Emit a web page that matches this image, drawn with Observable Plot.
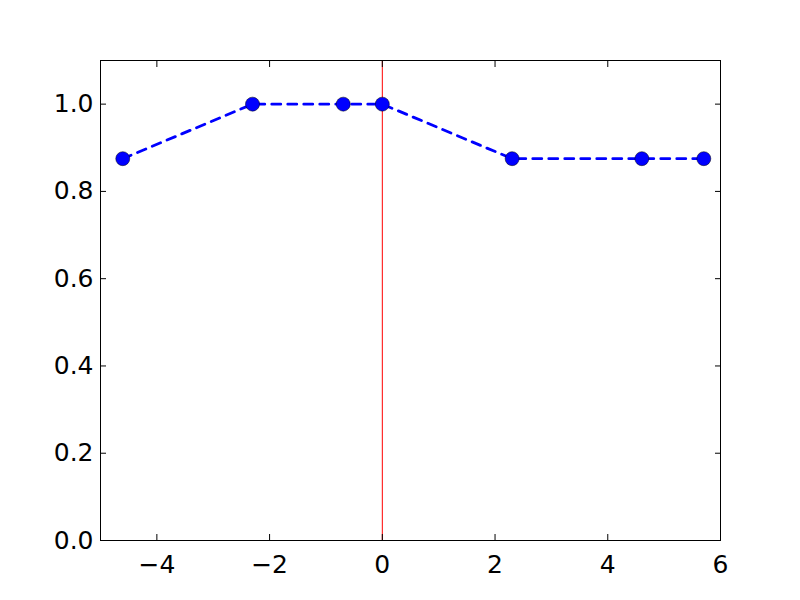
<!DOCTYPE html>
<html>
<head>
<meta charset="utf-8">
<script src="https://cdn.jsdelivr.net/npm/d3@7"></script>
<script src="https://cdn.jsdelivr.net/npm/@observablehq/plot@0.6"></script>
<style>
  html, body { margin: 0; padding: 0; background: #fff; }
  svg { display: block; }
</style>
</head>
<body>
<div id="chart"></div>
<script>
const xs = [-4.605, -2.303, -0.693, 0, 2.303, 4.605, 5.704];
const ys = [0.875, 1.0, 1.0, 1.0, 0.875, 0.875, 0.875];
const xTicks = [-4, -2, 0, 2, 4, 6];
const yTicks = [0, 0.2, 0.4, 0.6, 0.8, 1.0];
const vLine = [0];

const data = xs.map((x, i) => ({x, y: ys[i]}));
const font = "DejaVu Sans, sans-serif";

const chart = Plot.plot({
  width: 800,
  height: 600,
  marginLeft: 100,
  marginRight: 80,
  marginTop: 60,
  marginBottom: 60,
  style: {fontFamily: font, fontSize: "25px", background: "#fff", color: "#000"},
  x: {domain: [-5, 6]},
  y: {domain: [0, 1.1]},
  marks: [
    Plot.ruleX(vLine, {stroke: "red", strokeWidth: 1}),
    Plot.line(data, {x: "x", y: "y", stroke: "blue", strokeWidth: 2.8, strokeDasharray: "9,7"}),
    Plot.dot(data, {x: "x", y: "y", r: 7, fill: "blue", stroke: "black", strokeWidth: 0.5}),
    Plot.frame({stroke: "black", strokeWidth: 1}),
    Plot.axisX({anchor: "bottom", ticks: xTicks, tickSize: -6, tickPadding: 21, label: null, tickFormat: d => d3.format("d")(d).replace("-", "\u2212"), fontSize: 25}),
    Plot.axisX({anchor: "top", ticks: xTicks, tickSize: -6, label: null, tickFormat: () => ""}),
    Plot.axisY({anchor: "left", ticks: yTicks, tickSize: -6, tickPadding: 13, label: null, tickFormat: d3.format(".1f"), fontSize: 25}),
    Plot.axisY({anchor: "right", ticks: yTicks, tickSize: -6, label: null, tickFormat: () => ""})
  ]
});
document.getElementById("chart").appendChild(chart);
</script>
</body>
</html>
